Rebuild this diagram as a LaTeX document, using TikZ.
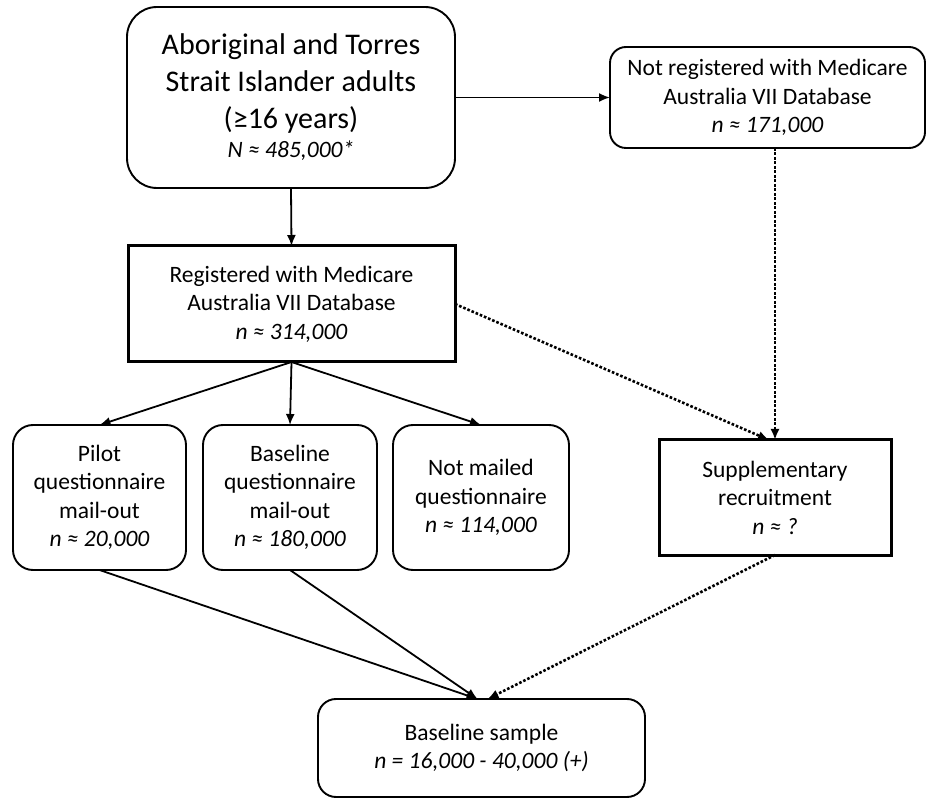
\documentclass[tikz,border=0pt]{standalone}
\usepackage{fontspec}
\setmainfont{Carlito}
\usetikzlibrary{arrows.meta,calc}
\begin{document}
\begin{tikzpicture}[x=1pt,y=-1pt,
  box/.style={draw, line width=1.9pt, align=center, inner sep=0pt, outer sep=0pt,
    font=\fontsize{23.5}{28.5}\selectfont},
  rbox/.style={box, rounded corners=#1},
  tbox/.style={box, line width=3pt},
  arr/.style={line width=1.8pt, -{Latex[length=11pt,width=9pt]}},
  dotarr/.style={line width=2.6pt, dash pattern=on 2.6pt off 1.9pt, -{Latex[length=11pt,width=9pt]}},
]
\useasboundingbox (0,0) rectangle (927,799);

\node[rbox=30pt, minimum width=328pt, minimum height=181pt, font=\fontsize{30}{37}\selectfont]
  (top) at (291,97.5) {Aboriginal and Torres\\Strait Islander adults\\(≥16 years)\\[-8pt]{\fontsize{23.5}{28}\selectfont\itshape N ≈ 485,000*}};

\node[rbox=16pt, minimum width=315pt, minimum height=101pt]
  (notreg) at (767.5,97.5) {Not registered with Medicare\\Australia VII Database\\\textit{n ≈ 171,000}};

\node[tbox, minimum width=327pt, minimum height=116pt]
  (reg) at (291.5,304) {Registered with Medicare\\Australia VII Database\\\textit{n ≈ 314,000}};

\node[rbox=20pt, minimum width=173pt, minimum height=145pt]
  (pilot) at (99.5,497.5) {Pilot\\questionnaire\\mail-out\\\textit{n ≈ 20,000}};

\node[rbox=20pt, minimum width=174pt, minimum height=145pt]
  (base) at (290,497.5) {Baseline\\questionnaire\\mail-out\\\textit{n ≈ 180,000}};

\node[rbox=20pt, minimum width=176pt, minimum height=145pt]
  (notmail) at (481,497.5) {Not mailed\\questionnaire\\\textit{n ≈ 114,000}};

\node[tbox, minimum width=232pt, minimum height=115pt]
  (supp) at (775,497.5) {Supplementary\\recruitment\\\textit{n ≈ ?}};

\node[rbox=18pt, minimum width=327pt, minimum height=98pt]
  (sample) at (481.5,748) {Baseline sample\\\textit{n = 16,000 - 40,000 (+)}};

\draw[arr] (top.east) -- (notreg.west);
\draw[arr] (top.south) -- (reg.north);
\draw[arr] (reg.south) -- (pilot.north);
\draw[arr] (reg.south) -- (base.north);
\draw[arr] (reg.south) -- (notmail.north);
\draw[dotarr] (reg.east) -- ($(supp.north)+(-6,0)$);
\draw[dotarr] (supp.north |- notreg.south) -- (supp.north);
\draw[arr] (pilot.south) -- ($(sample.north)+(-4,0)$);
\draw[arr] (base.south) -- ($(sample.north)+(-4,0)$);
\draw[dotarr] (supp.south) -- ($(sample.north)+(6,0)$);
\end{tikzpicture}
\end{document}
